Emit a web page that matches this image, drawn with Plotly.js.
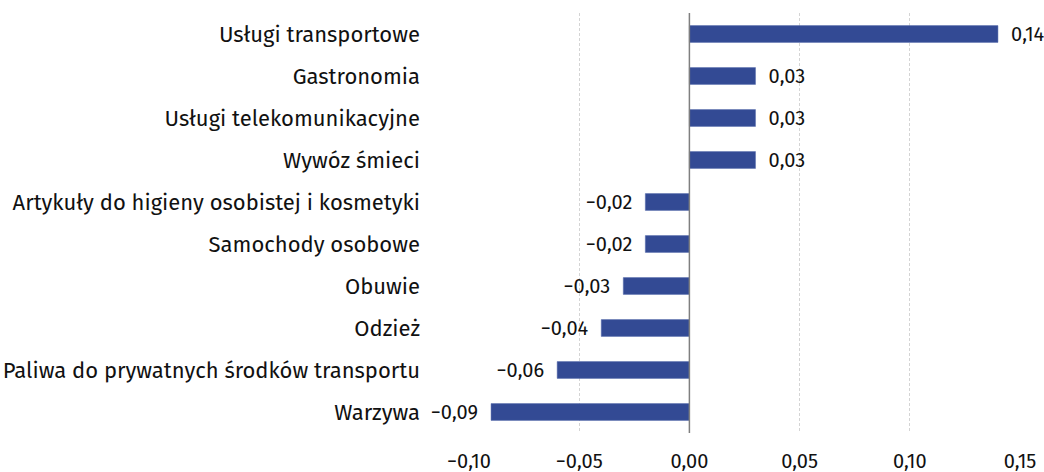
<!DOCTYPE html>
<html>
<head>
<meta charset="utf-8">
<script src="https://cdn.plot.ly/plotly-3.0.1.min.js"></script>
<style>html,body{margin:0;padding:0;background:#fff;}#chart{width:1044px;height:472px;}</style>
</head>
<body>
<div id="chart"></div>
<script>
const categories = [
  "Usługi transportowe",
  "Gastronomia",
  "Usługi telekomunikacyjne",
  "Wywóz śmieci",
  "Artykuły do higieny osobistej i kosmetyki",
  "Samochody osobowe",
  "Obuwie",
  "Odzież",
  "Paliwa do prywatnych środków transportu",
  "Warzywa"
];
const values = [0.14, 0.03, 0.03, 0.03, -0.02, -0.02, -0.03, -0.04, -0.06, -0.09];
const tickVals = [-0.10, -0.05, 0.00, 0.05, 0.10, 0.15];

function fmt(v) {
  return (v < 0 ? '\u2212' : '') + Math.abs(v).toFixed(2).replace('.', ',');
}
// en-space padding pushes the outside labels a little away from the bar end
const labels = values.map(v => v < 0 ? fmt(v) + '\u2002' : '\u2002' + fmt(v));
const tickText = tickVals.map(fmt);

const FONT = '"Fira Sans", "Noto Sans", sans-serif';

Plotly.newPlot('chart', [{
  type: 'bar',
  orientation: 'h',
  y: categories,
  x: values,
  width: 0.4,
  marker: {color: '#334a94', line: {color: '#5a6fae', width: 0.5}},
  text: labels,
  textposition: 'outside',
  constraintext: 'none',
  cliponaxis: false,
  textfont: {family: FONT, size: 20, color: '#111'},
  hoverinfo: 'skip'
}], {
  width: 1044,
  height: 472,
  margin: {l: 469, r: 24, t: 13, b: 39},
  paper_bgcolor: '#fff',
  plot_bgcolor: '#fff',
  showlegend: false,
  font: {family: FONT, size: 20, color: '#111'},
  xaxis: {
    range: [-0.10, 0.15],
    tickvals: tickVals,
    ticktext: tickText,
    showgrid: true,
    gridcolor: '#d4d4d4',
    griddash: '3px,2px',
    gridwidth: 1,
    zeroline: false,
    showline: false,
    ticks: '',
    ticklabelstandoff: 14,
    tickfont: {family: FONT, size: 20, color: '#111'}
  },
  yaxis: {
    type: 'category',
    autorange: 'reversed',
    showgrid: false,
    zeroline: false,
    showline: false,
    ticks: '',
    ticklabelstandoff: 48,
    tickfont: {family: FONT, size: 22, color: '#111'}
  },
  shapes: [{
    type: 'line', xref: 'x', yref: 'paper', x0: 0, x1: 0, y0: 0, y1: 1,
    line: {color: '#7f7f7f', width: 1.5}
  }]
}, {displayModeBar: false, staticPlot: true});
</script>
</body>
</html>
